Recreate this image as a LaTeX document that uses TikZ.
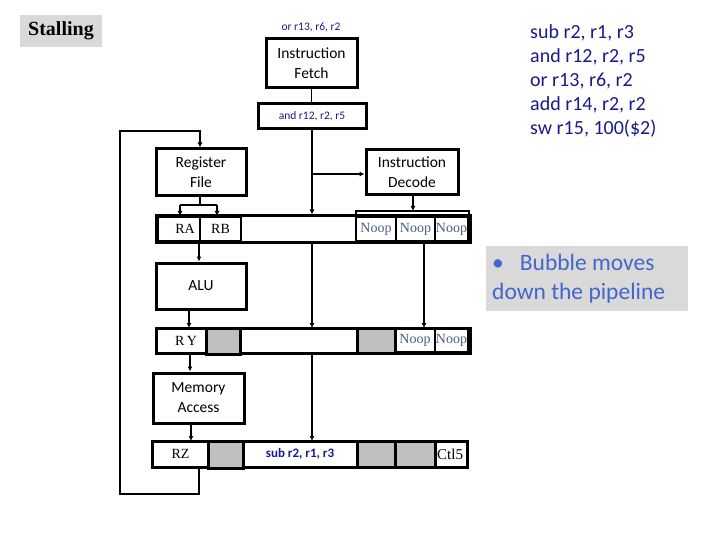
\documentclass[tikz,border=0pt]{standalone}
\usepackage{fontspec}
\setmainfont{Liberation Serif}
\newfontfamily\boxfont{Carlito}
\newfontfamily\listfont{Carlito}
\usetikzlibrary{arrows.meta}
\definecolor{navy}{HTML}{1A1A8C}
\definecolor{bubble}{HTML}{4466CC}
\definecolor{noopc}{HTML}{4D5D8A}
\definecolor{cellgray}{HTML}{C0C0C0}
\definecolor{bggray}{HTML}{D9D9D9}
\tikzset{
  unitbox/.style={draw, line width=3pt, align=center, inner sep=0pt, font=\boxfont\fontsize{15.5}{20}\selectfont},
  pipe/.style={draw, line width=3pt, inner sep=0pt},
  cell/.style={draw, line width=1.5pt, inner sep=0pt, font=\fontsize{14}{16}\selectfont},
  graycell/.style={draw, line width=3pt, fill=cellgray, inner sep=0pt},
  noop/.style={cell, text=noopc},
  wire/.style={line width=1.5pt},
  arr/.style={wire, -{Latex[length=5pt,width=5pt]}},
  instr/.style={text=navy, font=\boxfont\fontsize{11.5}{13}\selectfont},
}
% helper: box from (x1,y1) to (x2,y2)
\newcommand{\mybox}[7]{\node[#1, minimum width=#5pt-#3pt, minimum height=#6pt-#4pt] (#2) at ({(#3+#5)/2},{(#4+#6)/2}) {#7};}
\begin{document}
\begin{tikzpicture}[x=1pt,y=-1pt]
\useasboundingbox (0,0) rectangle (720,540);
% Stalling
\node[fill=bggray, minimum width=82pt, minimum height=32pt, inner sep=0pt, font=\bfseries\fontsize{20}{22}\selectfont] (stall) at (61,31) {Stalling};
% instruction list
\node[anchor=north west, align=left, text=navy, font=\listfont\fontsize{20}{24}\selectfont, inner sep=0pt] (list) at (530,24)
  {sub r2, r1, r3\\and r12, r2, r5\\or r13, r6, r2\\add r14, r2, r2\\sw r15, 100(\$2)};
% bubble note
\node[fill=bggray, minimum width=202pt, minimum height=65pt, inner sep=0pt] (bub) at (587,278.5) {};
\node[anchor=west, align=left, text=bubble, font=\listfont\fontsize{23.5}{29}\selectfont, inner sep=0pt] (bubtxt) at (492,278.5)
  {\textbullet\hspace{16pt}Bubble moves\\down the pipeline};
% top
\node[instr] (orinstr) at (311,27) {or r13, r6, r2};
\mybox{unitbox}{IF}{266}{39}{357}{88}{Instruction\\Fetch}
\mybox{unitbox, instr, line width=3pt, draw=black}{andbox}{258}{104}{366}{129}{and r12, r2, r5}
\mybox{unitbox}{RF}{156}{149}{246}{196}{Register\\File}
\mybox{unitbox}{ID}{366}{150}{458}{195}{Instruction\\Decode}
% pipeline register 1
\mybox{pipe}{reg1}{156}{216}{470}{242}{}
\mybox{cell}{RA}{158}{217}{200}{241}{\hspace*{12pt}RA}
\mybox{cell}{RB}{200}{217}{241}{241}{RB}
\mybox{noop}{n11}{356}{217}{396}{241}{Noop}
\mybox{noop}{n12}{396}{217}{435}{241}{Noop}
\mybox{noop}{n13}{435}{217}{468}{241}{Noop}
% ALU
\mybox{unitbox}{ALU}{156}{263}{246}{309}{ALU}
% pipeline register 2
\mybox{pipe}{reg2}{156}{328}{470}{353}{}
\mybox{cell, draw=none}{RY}{158}{329}{206}{352}{\hspace*{8pt}R\,Y}
\mybox{graycell}{g21}{206}{328}{240}{354}{}
\mybox{graycell}{g22}{357}{328}{395}{353}{}
\mybox{noop}{n21}{395}{329}{435}{352}{Noop}
\mybox{noop}{n22}{435}{329}{468}{352}{Noop}
% Memory access
\mybox{unitbox}{MA}{153}{373}{244}{423}{Memory\\Access}
% pipeline register 3
\mybox{pipe}{reg3}{152}{441}{467}{467}{}
\mybox{cell, draw=none}{RZ}{154}{442}{207}{466}{RZ}
\mybox{graycell}{g31}{208}{441}{243}{468}{}
\mybox{cell, draw=none, instr, font=\boxfont\bfseries\fontsize{13}{14}\selectfont}{subc}{243}{442}{357}{466}{sub r2, r1, r3}
\mybox{graycell}{g32}{357}{441}{395}{467}{}
\mybox{graycell}{g33}{395}{441}{435}{467}{}
\begin{scope}
\clip (436,442) rectangle (465,466);
\node[anchor=west, inner sep=0pt, font=\fontsize{15}{17}\selectfont] (ctl) at (437,454) {Ctl5};
\end{scope}
\draw[line width=1.5pt] (435,441) -- (435,467);
% wires
\draw[wire] (IF.south) -- (andbox.north -| IF.south);
\coordinate (br) at (312,174);
\draw[arr] (andbox.south -| br) -- (reg1.north -| br);
\draw[arr] (br) -- (ID.west |- br);
\coordinate (nb) at (413,211);
\draw[arr] (ID.south -| nb) -- (nb);
\draw[wire] (356,216) -- (356,211) -- (469,211) -- (469,216);
% register file outputs
\coordinate (rfb) at (200,205);
\draw[wire] (RF.south -| rfb) -- (rfb);
\draw[wire] (180,205) -- (217,205);
\draw[arr] (180,205) -- (180,216);
\draw[arr] (217,205) -- (217,216);
% feedback loop
\coordinate (fb1) at (199,494);
\coordinate (fb2) at (120,494);
\coordinate (fb3) at (120,131);
\coordinate (fb4) at (200,131);
\draw[arr] (RZ.south -| fb1) -- (fb1) -- (fb2) -- (fb3) -- (fb4) -- (RF.north -| fb4);
% reg1 outputs
\draw[arr] (199,242) -- (ALU.north -| 199,0);
\draw[arr] (312,242) -- (312,328);
\draw[arr] (424,242) -- (424,328);
\draw[arr] (ALU.south -| 189,0) -- (189,328);
% reg2 outputs
\draw[arr] (190,353) -- (MA.north -| 190,0);
\draw[arr] (312,353) -- (312,441);
\draw[arr] (MA.south -| 191,0) -- (191,441);
\end{tikzpicture}
\end{document}
